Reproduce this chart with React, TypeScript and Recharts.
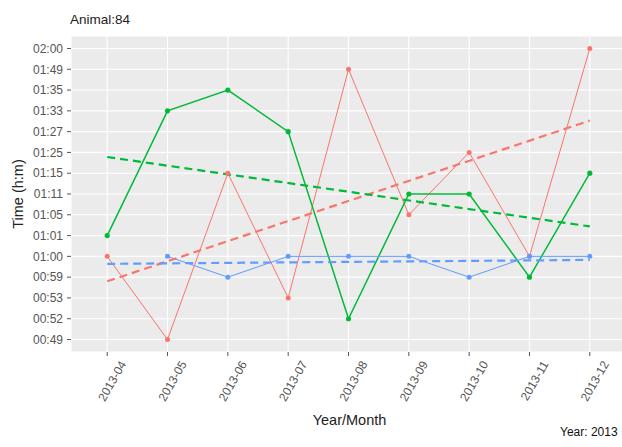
import React from "react";
import { LineChart, Line, XAxis, YAxis, CartesianGrid } from "recharts";

// Discrete y-axis levels (bottom to top), as shown on the chart
const timeLevels = [
  "00:49", "00:52", "00:53", "00:59", "01:00", "01:01", "01:05", "01:11",
  "01:15", "01:25", "01:27", "01:33", "01:35", "01:49", "02:00",
];

// X categories
const months = [
  "2013-04", "2013-05", "2013-06", "2013-07", "2013-08",
  "2013-09", "2013-10", "2013-11", "2013-12",
];

const redTimes = ["01:00", "00:49", "01:15", "00:53", "01:49", "01:05", "01:25", "01:00", "02:00"];
const greenTimes = ["01:01", "01:33", "01:35", "01:27", "00:52", "01:11", "01:11", "00:59", "01:15"];
const blueTimes = [null, "01:00", "00:59", "01:00", "01:00", "01:00", "00:59", "01:00", "01:00"];

// Dashed trend lines: [start at 2013-04, end at 2013-12], in level-position units
const redTrend = [2.8, 10.53];
const greenTrend = [8.78, 5.44];
const blueTrend = [3.64, 3.83];

const RED = "#F8766D";
const GREEN = "#00BA38";
const BLUE = "#619CFF";
const FONT = "'Liberation Sans', Arial, sans-serif";

const toLevel = (t: string | null) => (t == null ? null : timeLevels.indexOf(t));
const last = months.length - 1;

const data = months.map((m, i) => ({
  x: i,
  red: toLevel(redTimes[i]),
  green: toLevel(greenTimes[i]),
  blue: toLevel(blueTimes[i]),
  redTrend: i === 0 ? redTrend[0] : i === last ? redTrend[1] : null,
  greenTrend: i === 0 ? greenTrend[0] : i === last ? greenTrend[1] : null,
  blueTrend: i === 0 ? blueTrend[0] : i === last ? blueTrend[1] : null,
}));

const xTicks = months.map((_, i) => i);
const yTicks = timeLevels.map((_, i) => i);

const XTick = (props: any) => {
  const { x, y, payload } = props;
  const ax = x + 16;
  const ay = y + 4;
  return (
    <text
      x={ax}
      y={ay}
      transform={`rotate(-60 ${ax} ${ay})`}
      textAnchor="end"
      dominantBaseline="central"
      fontSize={12}
      fill="#555"
      fontFamily={FONT}
    >
      {months[payload.value]}
    </text>
  );
};

export default function App() {
  return (
    <div
      style={{
        position: "absolute",
        left: 0,
        top: 0,
        width: 622,
        height: 447,
        overflow: "hidden",
        background: "#fff",
        fontFamily: FONT,
      }}
    >
      <LineChart
        width={640}
        height={447}
        data={data}
        margin={{ top: 36, right: 14, bottom: 35, left: 0 }}
      >
        <CartesianGrid fill="#EBEBEB" stroke="#ffffff" strokeWidth={1.1} />
        <XAxis
          dataKey="x"
          type="number"
          domain={[-0.6, 8.6]}
          ticks={xTicks}
          interval={0}
          height={60}
          axisLine={false}
          tickLine={{ stroke: "#555" }}
          tickSize={4}
          tickMargin={2}
          tick={<XTick />}
        />
        <YAxis
          type="number"
          domain={[-0.6, 14.6]}
          ticks={yTicks}
          interval={0}
          width={71}
          axisLine={false}
          tickLine={{ stroke: "#555" }}
          tickSize={4}
          tickMargin={4}
          tickFormatter={(v: number) => timeLevels[v]}
          tick={{ fontSize: 12, fill: "#555", fontFamily: FONT }}
        />
        <Line
          dataKey="red"
          stroke={RED}
          strokeWidth={1}
          dot={{ r: 2.5, fill: RED, stroke: RED, strokeWidth: 0 }}
          activeDot={false}
          isAnimationActive={false}
        />
        <Line
          dataKey="green"
          stroke={GREEN}
          strokeWidth={1.5}
          dot={{ r: 2.6, fill: GREEN, stroke: GREEN, strokeWidth: 0 }}
          activeDot={false}
          isAnimationActive={false}
        />
        <Line
          dataKey="blue"
          stroke={BLUE}
          strokeWidth={1}
          dot={{ r: 2.5, fill: BLUE, stroke: BLUE, strokeWidth: 0 }}
          activeDot={false}
          isAnimationActive={false}
        />
        <Line
          dataKey="redTrend"
          stroke={RED}
          strokeWidth={2.2}
          strokeDasharray="8 5"
          dot={false}
          activeDot={false}
          connectNulls
          isAnimationActive={false}
        />
        <Line
          dataKey="greenTrend"
          stroke={GREEN}
          strokeWidth={2.2}
          strokeDasharray="8 5"
          dot={false}
          activeDot={false}
          connectNulls
          isAnimationActive={false}
        />
        <Line
          dataKey="blueTrend"
          stroke={BLUE}
          strokeWidth={2.2}
          strokeDasharray="8 5"
          dot={false}
          activeDot={false}
          connectNulls
          isAnimationActive={false}
        />
      </LineChart>

      <div
        style={{
          position: "absolute",
          left: 70,
          top: 20,
          transform: "translateY(-50%)",
          fontSize: 13.5,
          lineHeight: "14px",
          color: "#222",
          whiteSpace: "nowrap",
        }}
      >
        Animal:84
      </div>
      <div
        style={{
          position: "absolute",
          left: 18,
          top: 194,
          transform: "translate(-50%, -50%) rotate(-90deg)",
          fontSize: 14.5,
          lineHeight: "15px",
          color: "#222",
          whiteSpace: "nowrap",
        }}
      >
        Time (h:m)
      </div>
      <div
        style={{
          position: "absolute",
          left: 349.5,
          top: 420,
          transform: "translate(-50%, -50%)",
          fontSize: 14.5,
          lineHeight: "15px",
          color: "#222",
          whiteSpace: "nowrap",
        }}
      >
        Year/Month
      </div>
      <div
        style={{
          position: "absolute",
          left: 560,
          top: 432,
          transform: "translateY(-50%)",
          fontSize: 12,
          lineHeight: "12px",
          color: "#111",
          whiteSpace: "nowrap",
        }}
      >
        Year: 2013
      </div>
    </div>
  );
}
